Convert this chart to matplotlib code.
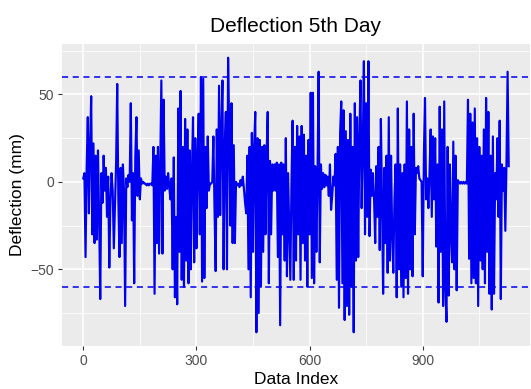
import numpy as np
import matplotlib
matplotlib.use("Agg")
import matplotlib.pyplot as plt
from matplotlib.ticker import FixedLocator

plt.rcParams['font.family'] = ['Liberation Sans', 'DejaVu Sans']

# deflection readings (mm), every 3rd sample of the day
seg_a = [2, 5, -43, 8, 37, -18, 20, 49, -30, 22, -35, 15, -33, 18, -20, -67, 5, -12, 15, -5,
         8, -20, 3, -49, -10, 5, -5, -38, -15, 10, 56, -10, -43, 8, -35, 10, -5, -71, 2, -3,
         4, 0, 45, -22, 5, -58, 15, 37, -8, 18, -10, 2, -1, 0, -1, -1, -2, -1, -2, -1]
seg_b = [-1, -2, 20, -64, 15, -35, 20, -41, 10, 58, -41, 47, -5, 3, -4, 5, -3, -10, 2, -50,
         14, -66, -20, -70, 42, -40, 52, -56, 20, -60, 36, -45, 30, -58, 18, -50, 5, 37, -46, 25,
         -38, 10, 39, -30, 60, -57, 59, -55, 20, -15, 26, -5, -1, -1, 0, 26, -16, -51, 30, -20,
         55, -19, 30, 58, -50, 20]
seg_c = [40, -50, 71, 30, -25, 45, -35, 21, -35, 0, -2, -1, -3, 1, -2, 3, -4, -12, -18, 15,
         -50, 20, -66, 28, -40, 20, 40, -86, 25, -75, 24, -60, 20, -40, 21, -30, 15, 40, -58, 12,
         -30, 10, -5, 10, -5, 11, -43, 10, -82, 11, -30, 10, -45, 25, -54, 5, -25, -56, 0, 35,
         -56, 20, -45, 32, -30, 26]
seg_d = [-56, 32, -35, 27, -45, 15, -60, 24, -30, 51, -55, 51, -58, 9, -40, 3, 63, -46, 10, -4,
         5, -3, 4, -2, 3, -8, 10, -16, -8, 3, -2, 16, -56, 20, -72, 28, 46, -58, 41, -79,
         29, -71, 24, -76, 39, -60, 20, -86, 45, -45, 37, -43, 25, 58, -15, 20, 69, -30, 45, -20,
         69, -31, 7, -8, 5, -10]
seg_e = [-35, 9, -20, 20, -39, 36, -10, -64, 8, -35, 15, -52, 37, -45, 15, -30, -52, -10, 10, -66,
         42, -50, 10, -60, 5, -66, 10, -55, 46, -64, 30, -50, 20, -54, 39, -30, 8, 5, 9, 2,
         1, 0, -54, 15, 48, -10, 2, -15, 5, 30, -20, 26, -10, 25, -37, 10, -69, 43, -40, 30,
         -71, 46, -60, -80, 20, -65]
seg_f = [10, -30, -46, 23, -50, 15, -62, 1, 0, -1, 0, -1, 0, -1, 0, -1, 47, -44, 39, -58,
         34, -55, 42, -58, 25, -71, 20, -45, 15, -50, 30, -58, 48, -40, 40, -64, 15, -73, 26, -64,
         5, -10, 25, -20, 35, -67, 10, -5, 8, -28, 10, 63, 9]

deflection = np.array(seg_a + seg_b + seg_c + seg_d + seg_e + seg_f, dtype=float)
data_index = np.arange(len(deflection)) * 3

limit = 60
x_ticks = [0, 300, 600, 900]
y_ticks = [-50, 0, 50]

fig = plt.figure(figsize=(5.31, 3.89), dpi=100)
ax = fig.add_axes([62 / 531, 1 - 346 / 389, 468 / 531, 302 / 389])
ax.set_facecolor('#EBEBEB')

ax.plot(data_index, deflection, color='#0000F0', lw=1.55, zorder=3)
ax.axhline(limit, color='#0000F0', lw=1.1, ls=(0, (4, 3)), zorder=4)
ax.axhline(-limit, color='#0000F0', lw=1.1, ls=(0, (4, 3)), zorder=4)

ax.margins(x=0.05, y=0.05)

ax.xaxis.set_major_locator(FixedLocator(x_ticks))
ax.xaxis.set_minor_locator(FixedLocator([150, 450, 750, 1050]))
ax.yaxis.set_major_locator(FixedLocator(y_ticks))
ax.yaxis.set_minor_locator(FixedLocator([-75, -25, 25, 75]))
ax.grid(which='major', color='white', lw=1.1, zorder=0)
ax.grid(which='minor', color='white', lw=0.55, zorder=0)
ax.set_axisbelow(True)

for s in ax.spines.values():
    s.set_visible(False)
ax.tick_params(which='major', length=3.2, width=0.8, color='#333333',
               labelcolor='#4D4D4D', labelsize=10, pad=2.5)
ax.tick_params(which='minor', length=0)

ax.set_title('Deflection 5th Day', fontsize=15, pad=9)
ax.set_xlabel('Data Index', fontsize=12.5, labelpad=3)
ax.set_ylabel('Deflection (mm)', fontsize=12.5, labelpad=4)

fig.savefig('out.png', dpi=100, facecolor='white')
